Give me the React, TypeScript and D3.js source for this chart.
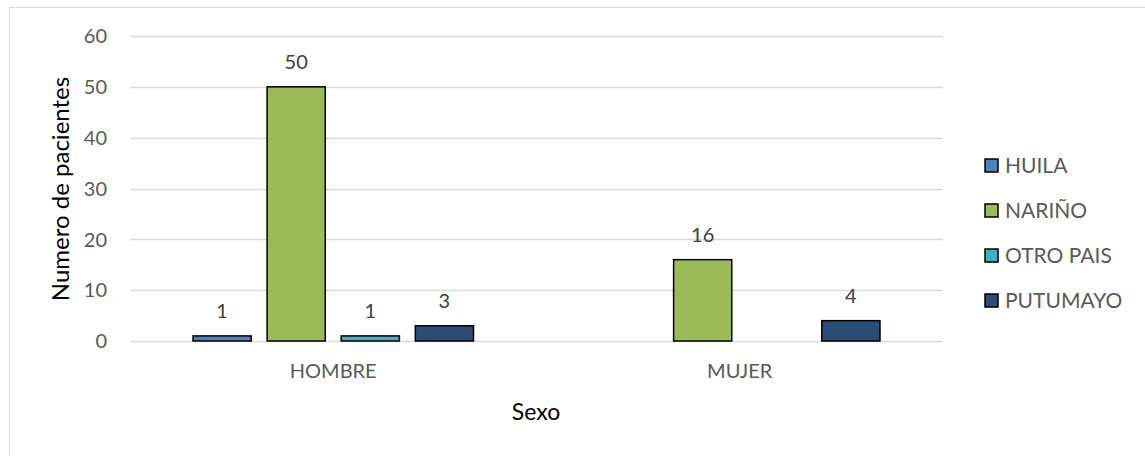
import React, { useEffect, useRef } from 'react';
import * as d3 from 'd3';

const categories = ['HOMBRE', 'MUJER'];
const seriesNames = ['HUILA', 'NARIÑO', 'OTRO PAIS', 'PUTUMAYO'];
const huila = [1, null];
const narino = [50, 16];
const otroPais = [1, null];
const putumayo = [3, 4];
const yTicks = [0, 10, 20, 30, 40, 50, 60];
const colors = ['#4f81bd', '#9bbb59', '#4bacc6', '#2c4d75'];

const W = 1145;
const H = 456;
const margin = { top: 36, right: 202, bottom: 115, left: 130 };
const FONT = 'Lato, "Open Sans", sans-serif';

export default function App() {
  const ref = useRef<SVGSVGElement>(null);

  useEffect(() => {
    const root = d3.select(ref.current);
    root.selectAll('*').remove();

    const width = W - margin.left - margin.right;
    const height = H - margin.top - margin.bottom;
    const series = [huila, narino, otroPais, putumayo];

    // chart frame
    root.append('rect')
      .attr('x', 9.5).attr('y', 7.5)
      .attr('width', W).attr('height', H)
      .attr('fill', '#fff')
      .attr('stroke', '#d9d9d9');

    const g = root.append('g')
      .attr('transform', 'translate(' + margin.left + ',' + margin.top + ')');

    const y = d3.scaleLinear().domain([0, 60]).range([height, 0]);
    const x0 = d3.scaleBand().domain(categories).range([0, width]).paddingInner(0).paddingOuter(0);
    const groupW = x0.bandwidth() * 0.69;
    const x1 = d3.scaleBand().domain(seriesNames).range([0, groupW]).paddingInner(0.215).paddingOuter(0);

    g.selectAll('.grid')
      .data(yTicks)
      .enter().append('line')
      .attr('x1', 0).attr('x2', width)
      .attr('y1', d => Math.round(y(d)) + 0.5)
      .attr('y2', d => Math.round(y(d)) + 0.5)
      .attr('stroke', '#d9d9d9')
      .attr('stroke-width', 1.5);

    g.selectAll('.ytick')
      .data(yTicks)
      .enter().append('text')
      .attr('x', -23)
      .attr('y', d => y(d))
      .attr('dy', '0.36em')
      .attr('text-anchor', 'end')
      .attr('font-family', FONT)
      .attr('font-size', 20)
      .attr('fill', '#595959')
      .text(d => d);

    const cat = g.selectAll('.cat')
      .data(categories)
      .enter().append('g')
      .attr('transform', d => 'translate(' + (x0(d)! + (x0.bandwidth() - groupW) / 2) + ',0)');

    cat.each(function(c, ci) {
      const sel = d3.select(this);
      seriesNames.forEach((s, si) => {
        const v = series[si][ci];
        if (v == null) return;
        sel.append('rect')
          .attr('x', x1(s)!)
          .attr('y', y(v))
          .attr('width', x1.bandwidth())
          .attr('height', height - y(v))
          .attr('fill', colors[si])
          .attr('stroke', '#000')
          .attr('stroke-width', 1.5);
        sel.append('text')
          .attr('x', x1(s)! + x1.bandwidth() / 2)
          .attr('y', y(v) - 18)
          .attr('text-anchor', 'middle')
          .attr('font-family', FONT)
          .attr('font-size', 20)
          .attr('fill', '#404040')
          .text(v);
      });
    });

    g.selectAll('.xlab')
      .data(categories)
      .enter().append('text')
      .attr('x', d => x0(d)! + x0.bandwidth() / 2)
      .attr('y', height + 37)
      .attr('text-anchor', 'middle')
      .attr('font-family', FONT)
      .attr('font-size', 20)
      .attr('fill', '#595959')
      .text(d => d);

    root.append('text')
      .attr('x', 536)
      .attr('y', 420)
      .attr('text-anchor', 'middle')
      .attr('font-family', FONT)
      .attr('font-size', 23)
      .attr('fill', '#000')
      .text('Sexo');

    root.append('text')
      .attr('transform', 'translate(69,189) rotate(-90)')
      .attr('text-anchor', 'middle')
      .attr('font-family', FONT)
      .attr('font-size', 24)
      .attr('fill', '#000')
      .text('Numero de pacientes');

    // legend
    const leg = root.selectAll('.leg')
      .data(seriesNames)
      .enter().append('g')
      .attr('transform', (d, i) => 'translate(985,' + (165 + i * 45) + ')');
    leg.append('rect')
      .attr('x', 0).attr('y', -6)
      .attr('width', 13).attr('height', 13)
      .attr('fill', (d, i) => colors[i])
      .attr('stroke', '#000')
      .attr('stroke-width', 1.5);
    leg.append('text')
      .attr('x', 20)
      .attr('y', 0)
      .attr('dy', '0.36em')
      .attr('font-family', FONT)
      .attr('font-size', 21)
      .attr('fill', '#595959')
      .text(d => d);
  }, []);

  return (
    <svg
      ref={ref}
      width={W}
      height={H}
      style={{ position: 'absolute', left: 0, top: 0 }}
    ></svg>
  );
}
